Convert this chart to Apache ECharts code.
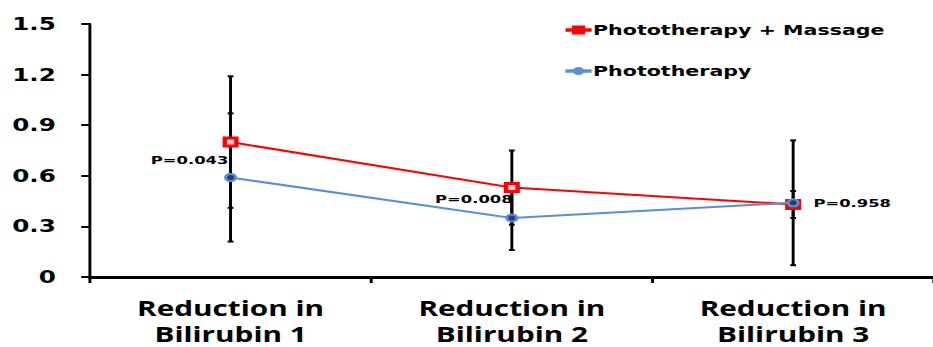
<!DOCTYPE html>
<html>
<head>
<meta charset="utf-8">
<script src="https://cdn.jsdelivr.net/npm/echarts@6/dist/echarts.min.js"></script>
<style>
  html, body { margin: 0; padding: 0; background: #fff; overflow: hidden; }
  #c { width: 644px; height: 347px; transform: scaleX(1.45); transform-origin: 0 0; }
</style>
</head>
<body>
<div id="c"></div>
<script>
// ---- data ----
const categories = ['Reduction in\nBilirubin 1', 'Reduction in\nBilirubin 2', 'Reduction in\nBilirubin 3'];
const massageName = 'Phototherapy + Massage';
const photoName = 'Phototherapy';
const massageMean = [0.80, 0.53, 0.43];
const massageErr = [0.39, 0.22, 0.08];
const photoMean = [0.59, 0.35, 0.44];
const photoErr = [0.38, 0.19, 0.37];
const pValues = ['P=0.043', 'P=0.008', 'P=0.958'];
const yMin = 0, yMax = 1.5, yStep = 0.3;

// ---- build ----
const RED = '#ff0000';
const BLUE = '#5b8ed8';
const errData = [];
categories.forEach((c, i) => {
  errData.push([i, massageMean[i] - massageErr[i], massageMean[i] + massageErr[i]]);
  errData.push([i, photoMean[i] - photoErr[i], photoMean[i] + photoErr[i]]);
});

const pLabelStyle = [
  { position: 'left', distance: 0, offset: [3, -18] },
  { position: 'left', distance: 0, offset: [5, -19] },
  { position: 'right', distance: 9.5, offset: [0, 0] }
];
const photoData = photoMean.map((v, i) => ({
  value: v,
  label: Object.assign({
    show: true,
    formatter: pValues[i],
    color: '#000',
    fontFamily: 'DejaVu Sans',
    fontWeight: 'bold',
    fontSize: 11.3
  }, pLabelStyle[i])
}));

const redIcon = 'path://M0,3.2H5V4.8H0Z M11,3.2H16V4.8H11Z M4.5,0.5H11.5V7.5H4.5Z M7.2,3.2V4.8H8.8V3.2Z';
const blueIcon = 'path://M0,3.2H5V4.8H0Z M11,3.2H16V4.8H11Z M8,1A3,3 0 1,1 8,7A3,3 0 1,1 8,1Z';

const chart = echarts.init(document.getElementById('c'), null, { renderer: 'svg' });
chart.setOption({
  animation: false,
  grid: { left: 62, width: 586, top: 24, height: 253, containLabel: false },
  legend: {
    orient: 'vertical',
    left: 385,
    top: 18,
    itemWidth: 16,
    itemHeight: 8,
    itemGap: 27,
    data: [
      { name: massageName, icon: redIcon, itemStyle: { color: RED } },
      { name: photoName, icon: blueIcon, itemStyle: { color: BLUE } }
    ],
    textStyle: { fontFamily: 'DejaVu Sans', fontWeight: 'bold', fontSize: 14.2, color: '#000', padding: [0, 0, 0, -3] }
  },
  xAxis: {
    type: 'category',
    data: categories,
    boundaryGap: true,
    axisLine: { lineStyle: { color: '#000', width: 3 } },
    axisTick: { show: true, length: 6, lineStyle: { color: '#000', width: 2 } },
    axisLabel: {
      margin: 18,
      color: '#000',
      fontFamily: 'Open Sans',
      fontWeight: 'bold',
      fontSize: 20.5,
      lineHeight: 26
    },
    splitLine: { show: false }
  },
  yAxis: {
    type: 'value',
    min: yMin,
    max: yMax,
    interval: yStep,
    axisLine: { show: true, lineStyle: { color: '#000', width: 2 } },
    axisTick: { show: true, length: 6, lineStyle: { color: '#000', width: 2 } },
    axisLabel: {
      margin: 23.5,
      color: '#000',
      fontFamily: 'DejaVu Sans',
      fontWeight: 'bold',
      fontSize: 17,
      formatter: v => (v === 0 ? '0' : v.toFixed(1))
    },
    splitLine: { show: false }
  },
  series: [
    {
      type: 'custom',
      name: 'err',
      z: 1,
      data: errData,
      encode: { x: 0, y: [1, 2] },
      renderItem: (params, api) => {
        const x = api.value(0);
        const lo = api.coord([x, api.value(1)]);
        const hi = api.coord([x, api.value(2)]);
        const hw = 2;
        const st = { stroke: '#000', lineWidth: 2 };
        return {
          type: 'group',
          children: [
            { type: 'line', shape: { x1: lo[0], y1: lo[1], x2: hi[0], y2: hi[1] }, style: st },
            { type: 'line', shape: { x1: lo[0] - hw, y1: lo[1], x2: lo[0] + hw, y2: lo[1] }, style: st },
            { type: 'line', shape: { x1: hi[0] - hw, y1: hi[1], x2: hi[0] + hw, y2: hi[1] }, style: st }
          ]
        };
      }
    },
    {
      type: 'line',
      name: massageName,
      z: 3,
      data: massageMean,
      symbol: 'rect',
      symbolSize: 8,
      lineStyle: { color: RED, width: 2 },
      itemStyle: { color: '#ffd0d0', borderColor: RED, borderWidth: 3 }
    },
    {
      type: 'line',
      name: photoName,
      z: 4,
      data: photoData,
      symbol: 'circle',
      symbolSize: 7,
      lineStyle: { color: BLUE, width: 2 },
      itemStyle: { color: '#24406b', borderColor: BLUE, borderWidth: 2 }
    }
  ]
});
</script>
</body>
</html>
